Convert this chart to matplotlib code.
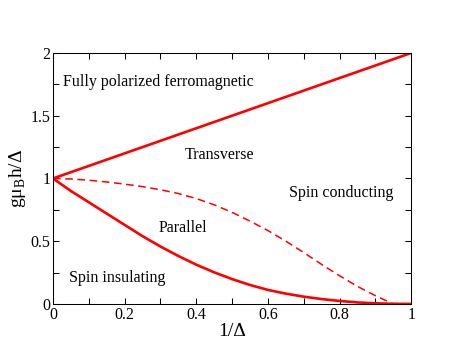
import numpy as np
import matplotlib
matplotlib.use("Agg")
import matplotlib.pyplot as plt
from matplotlib.ticker import MultipleLocator

plt.rcParams["font.family"] = ["Liberation Serif", "DejaVu Serif"]
plt.rcParams["mathtext.fontset"] = "custom"
plt.rcParams["mathtext.rm"] = "Liberation Serif"

# boundary lines
x_line = [0.0, 1.0]
y_line = [1.0, 2.0]

x_par = [0.0, 0.05, 0.1, 0.15, 0.2, 0.25, 0.3, 0.35, 0.4, 0.45, 0.5,
         0.55, 0.6, 0.65, 0.7, 0.75, 0.8, 0.85, 0.9, 0.95, 1.0]
y_par = [1.0, 0.90, 0.81, 0.72, 0.63, 0.54, 0.458, 0.382, 0.313, 0.252, 0.198,
         0.151, 0.112, 0.082, 0.058, 0.039, 0.024, 0.012, 0.005, 0.001, 0.0]

x_dash = [0.0, 0.05, 0.1, 0.15, 0.2, 0.25, 0.3, 0.35, 0.4, 0.45, 0.5,
          0.55, 0.6, 0.65, 0.7, 0.75, 0.8, 0.85, 0.9, 0.95]
y_dash = [1.0, 0.996, 0.986, 0.972, 0.955, 0.935, 0.91, 0.88, 0.84, 0.79, 0.73,
          0.66, 0.585, 0.50, 0.41, 0.315, 0.225, 0.14, 0.066, 0.0]

x_ticks = [0, 0.2, 0.4, 0.6, 0.8, 1.0]
x_ticklabels = ["0", "0.2", "0.4", "0.6", "0.8", "1"]
y_ticks = [0, 0.5, 1.0, 1.5, 2.0]
y_ticklabels = ["0", "0.5", "1", "1.5", "2"]

# region labels: (text, x, y, ha)
labels = [
    ("Fully polarized ferromagnetic", 0.028, 1.77, "left"),
    ("Transverse", 0.465, 1.19, "center"),
    ("Spin conducting", 0.806, 0.885, "center"),
    ("Parallel", 0.362, 0.605, "center"),
    ("Spin insulating", 0.045, 0.207, "left"),
]

fig = plt.figure(figsize=(4.63, 3.58), dpi=100)
ax = fig.add_axes([0.1145, 0.151, 0.7735, 0.701])

ax.plot(x_line, y_line, color="red", lw=1.9)
ax.plot(x_par, y_par, color="red", lw=1.9)
ax.plot(x_dash, y_dash, color="red", lw=1.1, dashes=(5, 3))

for txt, xx, yy, ha in labels:
    ax.text(xx, yy, txt, ha=ha, va="center", fontsize=11.5)

ax.set_xlim(0, 1)
ax.set_ylim(0, 2)
ax.set_xticks(x_ticks, x_ticklabels)
ax.set_yticks(y_ticks, y_ticklabels)
ax.xaxis.set_minor_locator(MultipleLocator(0.1))
ax.yaxis.set_minor_locator(MultipleLocator(0.25))
ax.tick_params(which="both", direction="in", top=True, right=True,
               length=4.5, width=0.75, labelsize=11.5, pad=2)
for s in ax.spines.values():
    s.set_linewidth(0.75)

ax.set_xlabel("1/Δ", fontsize=14, labelpad=0)
ax.set_ylabel(r"gμ$_\mathrm{B}$h/Δ", fontsize=14, labelpad=2)

fig.savefig("out.png", dpi=100)
